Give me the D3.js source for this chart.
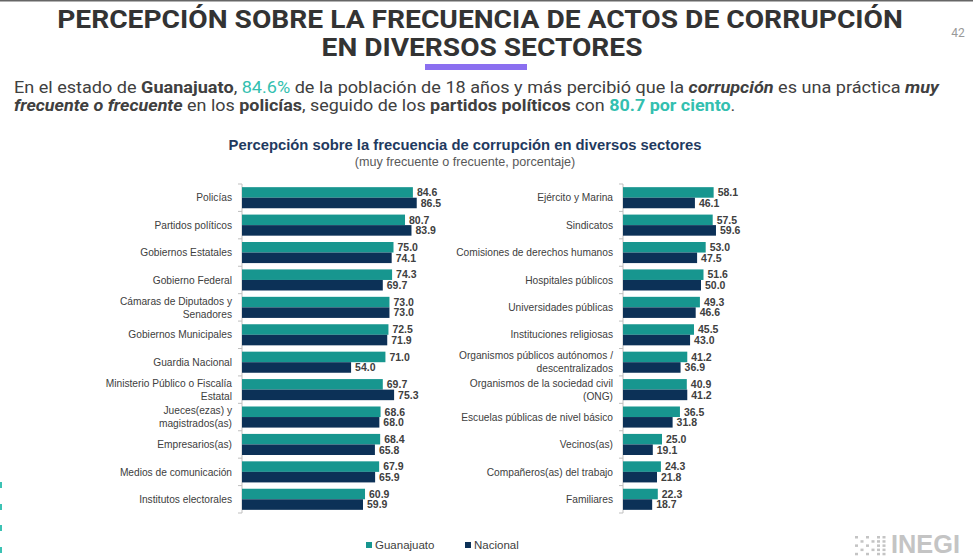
<!DOCTYPE html>
<html>
<head>
<meta charset="utf-8">
<script src="https://cdn.jsdelivr.net/npm/d3@7"></script>
<style>
  html, body { margin: 0; padding: 0; background: #fff; }
  svg { display: block; }
</style>
</head>
<body>
<script>
;(() => {
    var width = 973, height = 560;

    // left panel
    var leftCats = [
        'Policías', 'Partidos políticos', 'Gobiernos Estatales', 'Gobierno Federal',
        'Cámaras de Diputados y\nSenadores', 'Gobiernos Municipales', 'Guardia Nacional',
        'Ministerio Público o Fiscalía\nEstatal', 'Jueces(ezas) y\nmagistrados(as)',
        'Empresarios(as)', 'Medios de comunicación', 'Institutos electorales'
    ];
    var leftGto = [84.6, 80.7, 75.0, 74.3, 73.0, 72.5, 71.0, 69.7, 68.6, 68.4, 67.9, 60.9];
    var leftNac = [86.5, 83.9, 74.1, 69.7, 73.0, 71.9, 54.0, 75.3, 68.0, 65.8, 65.9, 59.9];

    // right panel
    var rightCats = [
        'Ejército y Marina', 'Sindicatos', 'Comisiones de derechos humanos',
        'Hospitales públicos', 'Universidades públicas', 'Instituciones religiosas',
        'Organismos públicos autónomos /\ndescentralizados', 'Organismos de la sociedad civil\n(ONG)',
        'Escuelas públicas de nivel básico', 'Vecinos(as)', 'Compañeros(as) del trabajo', 'Familiares'
    ];
    var rightGto = [58.1, 57.5, 53.0, 51.6, 49.3, 45.5, 41.2, 40.9, 36.5, 25.0, 24.3, 22.3];
    var rightNac = [46.1, 59.6, 47.5, 50.0, 46.6, 43.0, 36.9, 41.2, 31.8, 19.1, 21.8, 18.7];

    var seriesNames = ['Guanajuato', 'Nacional'];
    var colors = ['#17968f', '#0c3157'];

    var svg = d3.select('body')
        .append('svg')
        .attr('width', width)
        .attr('height', height)
        .style('font-family', '"Liberation Sans", Arial, sans-serif');

    svg.append('rect').attr('width', width).attr('height', height).attr('fill', '#fff');
    svg.append('rect').attr('width', width).attr('height', 1.5).attr('fill', '#666');

    // side decoration
    [485, 507, 528, 550].forEach(y => {
        svg.append('rect').attr('x', 0).attr('y', y - 3).attr('width', 2).attr('height', 6).attr('fill', '#3cc2b4');
    });

    // stretch/squeeze a text (placed at 0,0 inside its g) to a given width
    function fitWidth(text, w) {
        var len = text.node().getComputedTextLength();
        text.attr('transform', 'scale(' + (w / len) + ',1)');
    }

    // header
    var cond = 'Roboto, "Liberation Sans", sans-serif';
    function title(line, cx, y, w) {
        var g = svg.append('g').attr('transform', 'translate(' + cx + ',' + y + ')');
        var t = g.append('text')
            .attr('text-anchor', 'middle')
            .attr('font-family', cond).attr('font-weight', 'bold')
            .attr('font-size', 25.5).attr('fill', '#333')
            .text(line);
        fitWidth(t, w);
    }
    title('PERCEPCIÓN SOBRE LA FRECUENCIA DE ACTOS DE CORRUPCIÓN', 480, 28, 846);
    title('EN DIVERSOS SECTORES', 482, 56, 321);
    svg.append('rect').attr('x', 425).attr('y', 64).attr('width', 102).attr('height', 6).attr('fill', '#8b6ff0');
    svg.append('text')
        .attr('x', 958).attr('y', 37).attr('text-anchor', 'middle')
        .attr('font-family', cond).attr('font-size', 12).attr('fill', '#999')
        .text('42');

    var teal = '#33bfb0', grey = '#404040';
    var para1 = [
        ['En el estado de ', false, false, grey],
        ['Guanajuato', true, false, grey],
        [', ', false, false, grey],
        ['84.6%', false, false, teal],
        [' de la población de 18 años y más percibió que la ', false, false, grey],
        ['corrupción', true, true, grey],
        [' es una práctica ', false, false, grey],
        ['muy', true, true, grey]
    ];
    var para2 = [
        ['frecuente o frecuente', true, true, grey],
        [' en los ', false, false, grey],
        ['policías', true, false, grey],
        [', seguido de los ', false, false, grey],
        ['partidos políticos', true, false, grey],
        [' con ', false, false, grey],
        ['80.7 por ciento', true, false, teal],
        ['.', false, false, grey]
    ];
    function paragraph(parts, y, w) {
        var g = svg.append('g').attr('transform', 'translate(14,' + y + ')');
        var t = g.append('text')
            .attr('font-family', cond).attr('font-size', 16.5);
        parts.forEach(p => {
            t.append('tspan')
                .attr('font-weight', p[1] ? 'bold' : 'normal')
                .attr('font-style', p[2] ? 'italic' : 'normal')
                .attr('fill', p[3])
                .text(p[0]);
        });
        fitWidth(t, w);
    }
    paragraph(para1, 93, 926);
    paragraph(para2, 111, 722);

    // chart titles
    svg.append('text')
        .attr('x', 465).attr('y', 150).attr('text-anchor', 'middle')
        .attr('font-size', 14.8).attr('font-weight', 'bold').attr('fill', '#1f3a60')
        .text('Percepción sobre la frecuencia de corrupción en diversos sectores');
    svg.append('text')
        .attr('x', 465).attr('y', 166).attr('text-anchor', 'middle')
        .attr('font-size', 12.6).attr('fill', '#595959')
        .text('(muy frecuente o frecuente, porcentaje)');

    var top = 184, bottom = 513;

    function panel(axisX, pxPerUnit, cats, gto, nac) {
        var y = d3.scaleBand().domain(cats).range([top, bottom]);
        var x = d3.scaleLinear().domain([0, 100]).range([axisX, axisX + 100 * pxPerUnit]);
        var sub = d3.scaleBand().domain(seriesNames).range([0, y.bandwidth()]).paddingOuter(0.3).paddingInner(0);

        var g = svg.append('g');

        // axis line + ticks at category boundaries
        g.append('line')
            .attr('x1', axisX).attr('x2', axisX).attr('y1', top).attr('y2', bottom)
            .attr('stroke', '#bfbfbf').attr('stroke-width', 1);
        var bounds = cats.map(c => y(c)).concat([bottom]);
        g.selectAll('line.tick')
            .data(bounds)
            .enter()
            .append('line')
            .classed('tick', true)
            .attr('x1', axisX - 4).attr('x2', axisX)
            .attr('y1', d => d).attr('y2', d => d)
            .attr('stroke', '#bfbfbf');

        var rows = cats.map((c, i) => ({ cat: c, vals: [gto[i], nac[i]] }));
        var row = g.selectAll('g.row')
            .data(rows)
            .enter()
            .append('g')
            .attr('transform', d => 'translate(0,' + y(d.cat) + ')');

        row.selectAll('rect')
            .data(d => d.vals.map((v, k) => ({ v: v, s: seriesNames[k], k: k })))
            .enter()
            .append('rect')
            .attr('x', axisX)
            .attr('y', d => sub(d.s))
            .attr('width', d => x(d.v) - axisX)
            .attr('height', sub.bandwidth())
            .attr('fill', d => colors[d.k]);

        row.selectAll('text.val')
            .data(d => d.vals.map((v, k) => ({ v: v, s: seriesNames[k] })))
            .enter()
            .append('text')
            .classed('val', true)
            .attr('x', d => x(d.v) + 4)
            .attr('y', d => sub(d.s) + sub.bandwidth() / 2)
            .attr('dy', '0.36em')
            .attr('font-size', 10.5).attr('font-weight', 'bold')
            .attr('fill', grey)
            .text(d => d3.format('.1f')(d.v));

        // category labels
        row.each(function(d) {
            var lines = d.cat.split('\n');
            var t = d3.select(this).append('text')
                .attr('x', axisX - 10)
                .attr('text-anchor', 'end')
                .attr('font-size', 10.2)
                .attr('fill', grey);
            lines.forEach((l, j) => {
                t.append('tspan')
                    .attr('x', axisX - 10)
                    .attr('y', y.bandwidth() / 2 + (j - (lines.length - 1) / 2) * 13)
                    .attr('dy', '0.36em')
                    .text(l);
            });
        });
    }

    panel(242, 2.02, leftCats, leftGto, leftNac);
    panel(623, 1.56, rightCats, rightGto, rightNac);

    // legend
    var legend = svg.selectAll('g.legend')
        .data(seriesNames)
        .enter()
        .append('g')
        .attr('transform', (d, i) => 'translate(' + (366 + i * 99) + ',545)');
    legend.append('rect')
        .attr('x', 0).attr('y', -3).attr('width', 6).attr('height', 6)
        .attr('fill', (d, i) => colors[i]);
    legend.append('text')
        .attr('x', 9).attr('dy', '0.36em')
        .attr('font-size', 11.5).attr('fill', grey)
        .text(d => d);

    // INEGI mark
    var logo = svg.append('g').attr('fill', '#c4c4c4');
    for (var c = 0; c < 6; c++) {
        for (var r = 0; r < 5; r++) {
            if ((c + r) % 2 === 0 || c > 3)
                logo.append('rect').attr('x', 855 + c * 5.5).attr('y', 536 + r * 4.2).attr('width', 3).attr('height', 2.5);
        }
    }
    var lg = logo.append('g').attr('transform', 'translate(891,553)');
    var lt = lg.append('text')
        .attr('font-size', 25).attr('font-weight', 'bold')
        .text('INEGI');
    fitWidth(lt, 69);
})();
</script>
</body>
</html>
